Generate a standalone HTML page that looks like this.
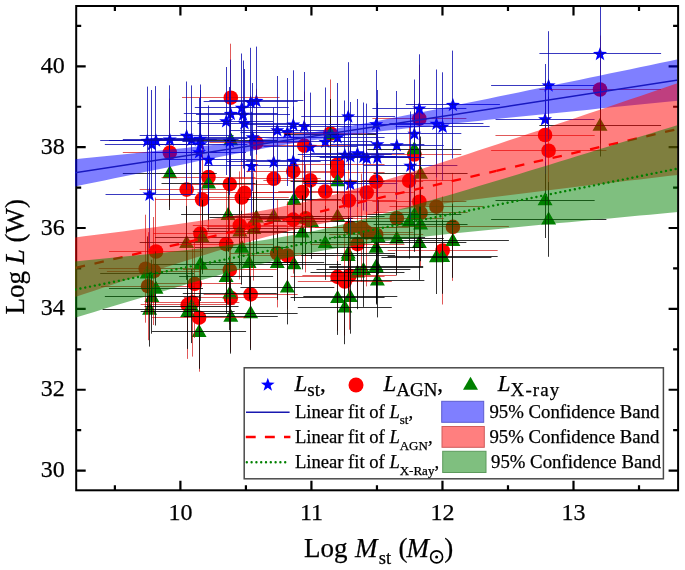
<!DOCTYPE html><html><head><meta charset="utf-8"><style>html,body{margin:0;padding:0;background:#fff;}svg{display:block;will-change:transform;}text{font-family:"Liberation Serif",serif;stroke:#000;stroke-width:0.25px;}</style></head><body>
<svg width="685" height="570" viewBox="0 0 685 570">
<defs><clipPath id="pc"><rect x="76.2" y="6" width="601.9" height="484.3"/></clipPath><clipPath id="pc2"><rect x="75" y="7" width="602.1" height="482.3"/></clipPath></defs>
<g clip-path="url(#pc)">
<g fill="#ff0000"><circle cx="230.8" cy="97.7" r="7.3"/><circle cx="169.8" cy="152.6" r="7.3"/><circle cx="256.4" cy="142.7" r="7.3"/><circle cx="208.53" cy="177" r="7.3"/><circle cx="186.63" cy="189.6" r="7.3"/><circle cx="229.8" cy="184.2" r="7.3"/><circle cx="273.7" cy="178.8" r="7.3"/><circle cx="244.5" cy="192.8" r="7.3"/><circle cx="241.8" cy="197.5" r="7.3"/><circle cx="202.05" cy="199.5" r="7.3"/><circle cx="293.27" cy="171.2" r="7.3"/><circle cx="304.2" cy="145.6" r="7.3"/><circle cx="310.35" cy="180.4" r="7.3"/><circle cx="337.57" cy="164.5" r="7.3"/><circle cx="337.57" cy="172" r="7.3"/><circle cx="376.18" cy="181.6" r="7.3"/><circle cx="419.38" cy="118.7" r="7.3"/><circle cx="414.32" cy="154.5" r="7.3"/><circle cx="409.1" cy="180.8" r="7.3"/><circle cx="325.23" cy="191.5" r="7.3"/><circle cx="302.1" cy="192" r="7.3"/><circle cx="366.7" cy="192.5" r="7.3"/><circle cx="348.9" cy="200.5" r="7.3"/><circle cx="419.38" cy="201.7" r="7.3"/><circle cx="293.27" cy="219.6" r="7.3"/><circle cx="305.7" cy="218.4" r="7.3"/><circle cx="396.8" cy="218.4" r="7.3"/><circle cx="436.43" cy="206.7" r="7.3"/><circle cx="350.3" cy="227.7" r="7.3"/><circle cx="361.8" cy="227.7" r="7.3"/><circle cx="366.7" cy="232.4" r="7.3"/><circle cx="376.18" cy="234.7" r="7.3"/><circle cx="357.47" cy="244.1" r="7.3"/><circle cx="287.37" cy="255.5" r="7.3"/><circle cx="200.38" cy="233.6" r="7.3"/><circle cx="155.97" cy="251.5" r="7.3"/><circle cx="226.13" cy="244.1" r="7.3"/><circle cx="239.8" cy="225.4" r="7.3"/><circle cx="253.8" cy="226.6" r="7.3"/><circle cx="277.27" cy="253.4" r="7.3"/><circle cx="145.7" cy="268.7" r="7.3"/><circle cx="153.9" cy="271" r="7.3"/><circle cx="148" cy="286.2" r="7.3"/><circle cx="194.7" cy="283.9" r="7.3"/><circle cx="187.7" cy="304.9" r="7.3"/><circle cx="192.4" cy="302.6" r="7.3"/><circle cx="199.07" cy="317.7" r="7.3"/><circle cx="229.8" cy="269.9" r="7.3"/><circle cx="230.8" cy="297.9" r="7.3"/><circle cx="250.63" cy="294.4" r="7.3"/><circle cx="337.57" cy="276.9" r="7.3"/><circle cx="344.8" cy="281.5" r="7.3"/><circle cx="349.4" cy="275.7" r="7.3"/><circle cx="420.57" cy="212.8" r="7.3"/><circle cx="452.9" cy="226.9" r="7.3"/><circle cx="442.67" cy="250.5" r="7.3"/><circle cx="545.07" cy="135" r="7.3"/><circle cx="548.6" cy="150.7" r="7.3"/><circle cx="600" cy="89.5" r="7.3"/><circle cx="330.5" cy="133.5" r="7.3"/></g>
<path fill="#008000" d="M169.8,165.21 L177.3,178.2 L162.3,178.2 ZM208.53,175.61 L216.03,188.6 L201.03,188.6 ZM230.8,132.21 L238.3,145.2 L223.3,145.2 ZM330.5,126.21 L338,139.2 L323,139.2 ZM414.32,141.21 L421.82,154.2 L406.82,154.2 ZM337.57,173.21 L345.07,186.2 L330.07,186.2 ZM420.57,165.71 L428.07,178.7 L413.07,178.7 ZM600,117.71 L607.5,130.7 L592.5,130.7 ZM545.07,192.21 L552.57,205.2 L537.57,205.2 ZM548.6,211.61 L556.1,224.6 L541.1,224.6 ZM452.9,233.01 L460.4,246 L445.4,246 ZM442.67,249.01 L450.17,262 L435.17,262 ZM436.43,249.21 L443.93,262.2 L428.93,262.2 ZM228.1,207.11 L235.6,220.1 L220.6,220.1 ZM256.4,209.41 L263.9,222.4 L248.9,222.4 ZM273.7,208.31 L281.2,221.3 L266.2,221.3 ZM239.8,223.41 L247.3,236.4 L232.3,236.4 ZM253.8,221.11 L261.3,234.1 L246.3,234.1 ZM186.63,235.11 L194.13,248.1 L179.13,248.1 ZM202.05,229.31 L209.55,242.3 L194.55,242.3 ZM241.8,239.81 L249.3,252.8 L234.3,252.8 ZM200.38,256.21 L207.88,269.2 L192.88,269.2 ZM249.1,255.01 L256.6,268 L241.6,268 ZM277.27,255.01 L284.77,268 L269.77,268 ZM294,191.91 L301.5,204.9 L286.5,204.9 ZM337.57,208.31 L345.07,221.3 L330.07,221.3 ZM305.7,210.61 L313.2,223.6 L298.2,223.6 ZM311.5,214.11 L319,227.1 L304,227.1 ZM414.32,207.11 L421.82,220.1 L406.82,220.1 ZM302.1,224.61 L309.6,237.6 L294.6,237.6 ZM325.23,235.11 L332.73,248.1 L317.73,248.1 ZM378.1,229.31 L385.6,242.3 L370.6,242.3 ZM376.18,239.81 L383.68,252.8 L368.68,252.8 ZM396.8,230.51 L404.3,243.5 L389.3,243.5 ZM419.38,235.11 L426.88,248.1 L411.88,248.1 ZM348.2,245.61 L355.7,258.6 L340.7,258.6 ZM294,256.21 L301.5,269.2 L286.5,269.2 ZM376.18,258.51 L383.68,271.5 L368.68,271.5 ZM147.2,265.61 L154.7,278.6 L139.7,278.6 ZM155.97,280.71 L163.47,293.7 L148.47,293.7 ZM151.85,288.91 L159.35,301.9 L144.35,301.9 ZM149.55,301.81 L157.05,314.8 L142.05,314.8 ZM191.55,298.31 L199.05,311.3 L184.05,311.3 ZM187.7,304.11 L195.2,317.1 L180.2,317.1 ZM199.07,324.01 L206.57,337 L191.57,337 ZM226.13,269.11 L233.63,282.1 L218.63,282.1 ZM229.8,285.41 L237.3,298.4 L222.3,298.4 ZM230.8,308.81 L238.3,321.8 L223.3,321.8 ZM250.63,305.31 L258.13,318.3 L243.13,318.3 ZM287.37,279.61 L294.87,292.6 L279.87,292.6 ZM337.57,290.11 L345.07,303.1 L330.07,303.1 ZM350.3,288.91 L357.8,301.9 L342.8,301.9 ZM344.8,299.41 L352.3,312.4 L337.3,312.4 ZM348.2,248.01 L355.7,261 L340.7,261 ZM357.47,264.41 L364.97,277.4 L349.97,277.4 ZM363.45,262.11 L370.95,275.1 L355.95,275.1 ZM376.18,259.71 L383.68,272.7 L368.68,272.7 ZM377.37,272.61 L384.87,285.6 L369.87,285.6 ZM409.1,213.81 L416.6,226.8 L401.6,226.8 ZM420.57,216.41 L428.07,229.4 L413.07,229.4 Z"/>
<path fill="#0000ff" d="M147.2,133.8 L148.96,138.77 L154.24,138.91 L150.05,142.13 L151.55,147.19 L147.2,144.2 L142.85,147.19 L144.35,142.13 L140.16,138.91 L145.44,138.77ZM151.85,137.2 L153.61,142.17 L158.89,142.31 L154.7,145.53 L156.2,150.59 L151.85,147.6 L147.5,150.59 L149,145.53 L144.81,142.31 L150.09,142.17ZM155.97,133.3 L157.73,138.27 L163,138.41 L158.82,141.63 L160.32,146.69 L155.97,143.7 L151.62,146.69 L153.11,141.63 L148.93,138.41 L154.2,138.27ZM169.8,132.5 L171.56,137.47 L176.84,137.61 L172.65,140.83 L174.15,145.89 L169.8,142.9 L165.45,145.89 L166.95,140.83 L162.76,137.61 L168.04,137.47ZM186.63,128.7 L188.4,133.67 L193.67,133.81 L189.49,137.03 L190.98,142.09 L186.63,139.1 L182.28,142.09 L183.78,137.03 L179.6,133.81 L184.87,133.67ZM191.55,132.6 L193.31,137.57 L198.59,137.71 L194.4,140.93 L195.9,145.99 L191.55,143 L187.2,145.99 L188.7,140.93 L184.51,137.71 L189.79,137.57ZM200.38,131.7 L202.14,136.67 L207.41,136.81 L203.23,140.03 L204.72,145.09 L200.38,142.1 L196.03,145.09 L197.52,140.03 L193.34,136.81 L198.61,136.67ZM200.38,137.2 L202.14,142.17 L207.41,142.31 L203.23,145.53 L204.72,150.59 L200.38,147.6 L196.03,150.59 L197.52,145.53 L193.34,142.31 L198.61,142.17ZM199.07,145.2 L200.83,150.17 L206.1,150.31 L201.92,153.53 L203.42,158.59 L199.07,155.6 L194.72,158.59 L196.21,153.53 L192.03,150.31 L197.3,150.17ZM208.53,152.7 L210.3,157.67 L215.57,157.81 L211.39,161.03 L212.88,166.09 L208.53,163.1 L204.18,166.09 L205.68,161.03 L201.5,157.81 L206.77,157.67ZM149.55,187.5 L151.31,192.47 L156.59,192.61 L152.4,195.83 L153.9,200.89 L149.55,197.9 L145.2,200.89 L146.7,195.83 L142.51,192.61 L147.79,192.47ZM250.63,95 L252.4,99.97 L257.67,100.11 L253.49,103.33 L254.98,108.39 L250.63,105.4 L246.28,108.39 L247.78,103.33 L243.6,100.11 L248.87,99.97ZM256.4,93.8 L258.16,98.77 L263.44,98.91 L259.25,102.13 L260.75,107.19 L256.4,104.2 L252.05,107.19 L253.55,102.13 L249.36,98.91 L254.64,98.77ZM241.8,100.7 L243.56,105.67 L248.84,105.81 L244.65,109.03 L246.15,114.09 L241.8,111.1 L237.45,114.09 L238.95,109.03 L234.76,105.81 L240.04,105.67ZM243,107.7 L244.76,112.67 L250.04,112.81 L245.85,116.03 L247.35,121.09 L243,118.1 L238.65,121.09 L240.15,116.03 L235.96,112.81 L241.24,112.67ZM244.5,116.2 L246.26,121.17 L251.54,121.31 L247.35,124.53 L248.85,129.59 L244.5,126.6 L240.15,129.59 L241.65,124.53 L237.46,121.31 L242.74,121.17ZM226.13,114.2 L227.9,119.17 L233.17,119.31 L228.99,122.53 L230.48,127.59 L226.13,124.6 L221.78,127.59 L223.28,122.53 L219.1,119.31 L224.37,119.17ZM230.8,106.9 L232.56,111.87 L237.84,112.01 L233.65,115.23 L235.15,120.29 L230.8,117.3 L226.45,120.29 L227.95,115.23 L223.76,112.01 L229.04,111.87ZM229.8,134.2 L231.56,139.17 L236.84,139.31 L232.65,142.53 L234.15,147.59 L229.8,144.6 L225.45,147.59 L226.95,142.53 L222.76,139.31 L228.04,139.17ZM252.6,130.2 L254.36,135.17 L259.64,135.31 L255.45,138.53 L256.95,143.59 L252.6,140.6 L248.25,143.59 L249.75,138.53 L245.56,135.31 L250.84,135.17ZM251.5,159 L253.26,163.97 L258.54,164.11 L254.35,167.33 L255.85,172.39 L251.5,169.4 L247.15,172.39 L248.65,167.33 L244.46,164.11 L249.74,163.97ZM273.7,154.7 L275.46,159.67 L280.74,159.81 L276.55,163.03 L278.05,168.09 L273.7,165.1 L269.35,168.09 L270.85,163.03 L266.66,159.81 L271.94,159.67ZM277.27,123.2 L279.03,128.17 L284.3,128.31 L280.12,131.53 L281.62,136.59 L277.27,133.6 L272.92,136.59 L274.41,131.53 L270.23,128.31 L275.5,128.17ZM287.37,125.2 L289.13,130.17 L294.4,130.31 L290.22,133.53 L291.72,138.59 L287.37,135.6 L283.02,138.59 L284.51,133.53 L280.33,130.31 L285.6,130.17ZM293.27,117.5 L295.04,122.47 L300.31,122.61 L296.13,125.83 L297.62,130.89 L293.27,127.9 L288.93,130.89 L290.42,125.83 L286.24,122.61 L291.51,122.47ZM304.2,119.2 L305.96,124.17 L311.24,124.31 L307.05,127.53 L308.55,132.59 L304.2,129.6 L299.85,132.59 L301.35,127.53 L297.16,124.31 L302.44,124.17ZM310.35,139.8 L312.11,144.77 L317.39,144.91 L313.2,148.13 L314.7,153.19 L310.35,150.2 L306,153.19 L307.5,148.13 L303.31,144.91 L308.59,144.77ZM348.2,109.4 L349.96,114.37 L355.24,114.51 L351.05,117.73 L352.55,122.79 L348.2,119.8 L343.85,122.79 L345.35,117.73 L341.16,114.51 L346.44,114.37ZM376.18,117.2 L377.95,122.17 L383.22,122.31 L379.04,125.53 L380.53,130.59 L376.18,127.6 L371.83,130.59 L373.33,125.53 L369.15,122.31 L374.42,122.17ZM325.23,134.7 L327,139.67 L332.27,139.81 L328.09,143.03 L329.58,148.09 L325.23,145.1 L320.88,148.09 L322.38,143.03 L318.2,139.81 L323.47,139.67ZM337.57,130.2 L339.33,135.17 L344.61,135.31 L340.42,138.53 L341.92,143.59 L337.57,140.6 L333.22,143.59 L334.72,138.53 L330.53,135.31 L335.81,135.17ZM344.8,147.7 L346.56,152.67 L351.84,152.81 L347.65,156.03 L349.15,161.09 L344.8,158.1 L340.45,161.09 L341.95,156.03 L337.76,152.81 L343.04,152.67ZM350.3,149.2 L352.06,154.17 L357.34,154.31 L353.15,157.53 L354.65,162.59 L350.3,159.6 L345.95,162.59 L347.45,157.53 L343.26,154.31 L348.54,154.17ZM366.7,150.8 L368.46,155.77 L373.74,155.91 L369.55,159.13 L371.05,164.19 L366.7,161.2 L362.35,164.19 L363.85,159.13 L359.66,155.91 L364.94,155.77ZM357.47,146.2 L359.23,151.17 L364.5,151.31 L360.32,154.53 L361.82,159.59 L357.47,156.6 L353.12,159.59 L354.61,154.53 L350.43,151.31 L355.7,151.17ZM363.45,149.7 L365.21,154.67 L370.49,154.81 L366.3,158.03 L367.8,163.09 L363.45,160.1 L359.1,163.09 L360.6,158.03 L356.41,154.81 L361.69,154.67ZM377.37,137.2 L379.13,142.17 L384.4,142.31 L380.22,145.53 L381.72,150.59 L377.37,147.6 L373.02,150.59 L374.51,145.53 L370.33,142.31 L375.6,142.17ZM377.37,150.3 L379.13,155.27 L384.4,155.41 L380.22,158.63 L381.72,163.69 L377.37,160.7 L373.02,163.69 L374.51,158.63 L370.33,155.41 L375.6,155.27ZM396.8,138.2 L398.56,143.17 L403.84,143.31 L399.65,146.53 L401.15,151.59 L396.8,148.6 L392.45,151.59 L393.95,146.53 L389.76,143.31 L395.04,143.17ZM414.32,126.7 L416.09,131.67 L421.36,131.81 L417.18,135.03 L418.67,140.09 L414.32,137.1 L409.98,140.09 L411.47,135.03 L407.29,131.81 L412.56,131.67ZM410.4,158.7 L412.16,163.67 L417.44,163.81 L413.25,167.03 L414.75,172.09 L410.4,169.1 L406.05,172.09 L407.55,167.03 L403.36,163.81 L408.64,163.67ZM293.27,153.8 L295.04,158.77 L300.31,158.91 L296.13,162.13 L297.62,167.19 L293.27,164.2 L288.93,167.19 L290.42,162.13 L286.24,158.91 L291.51,158.77ZM350.3,176.9 L352.06,181.87 L357.34,182.01 L353.15,185.23 L354.65,190.29 L350.3,187.3 L345.95,190.29 L347.45,185.23 L343.26,182.01 L348.54,181.87ZM419.38,101.5 L421.14,106.47 L426.41,106.61 L422.23,109.83 L423.72,114.89 L419.38,111.9 L415.03,114.89 L416.52,109.83 L412.34,106.61 L417.61,106.47ZM436.43,116.7 L438.2,121.67 L443.47,121.81 L439.29,125.03 L440.78,130.09 L436.43,127.1 L432.08,130.09 L433.58,125.03 L429.4,121.81 L434.67,121.67ZM442.67,119.5 L444.43,124.47 L449.7,124.61 L445.52,127.83 L447.02,132.89 L442.67,129.9 L438.32,132.89 L439.81,127.83 L435.63,124.61 L440.9,124.47ZM452.9,97.8 L454.66,102.77 L459.94,102.91 L455.75,106.13 L457.25,111.19 L452.9,108.2 L448.55,111.19 L450.05,106.13 L445.86,102.91 L451.14,102.77ZM548.6,78.4 L550.36,83.37 L555.64,83.51 L551.45,86.73 L552.95,91.79 L548.6,88.8 L544.25,91.79 L545.75,86.73 L541.56,83.51 L546.84,83.37ZM545.07,112.2 L546.83,117.17 L552.1,117.31 L547.92,120.53 L549.42,125.59 L545.07,122.6 L540.72,125.59 L542.21,120.53 L538.03,117.31 L543.3,117.17ZM600,46.9 L601.76,51.87 L607.04,52.01 L602.85,55.23 L604.35,60.29 L600,57.3 L595.65,60.29 L597.15,55.23 L592.96,52.01 L598.24,51.87Z"/>
<path d="M182,97.5H279.6M230.5,43.7V151.7M122.8,152.5H216.8M169.5,98.6V206.6M209.4,142.5H303.4M256.5,88.7V196.7M161.53,177.5H255.53M208.5,123V231M139.63,189.5H233.63M186.5,135.6V243.6M182.8,184.5H276.8M229.5,130.2V238.2M226.7,178.5H320.7M273.5,124.8V232.8M197.5,192.5H291.5M244.5,138.8V246.8M194.8,197.5H288.8M241.5,143.5V251.5M155.05,199.5H249.05M202.5,145.5V253.5M246.27,171.5H340.27M293.5,117.2V225.2M257.2,145.5H351.2M304.5,91.6V199.6M263.35,180.5H357.35M310.5,126.4V234.4M290.57,164.5H384.57M337.5,110.5V218.5M290.57,172.5H384.57M337.5,118V226M329.18,181.5H423.18M376.5,127.6V235.6M372.38,118.5H466.38M419.5,64.7V172.7M367.32,154.5H461.32M414.5,100.5V208.5M362.1,180.5H456.1M409.5,126.8V234.8M278.23,191.5H372.23M325.5,137.5V245.5M255.1,192.5H349.1M302.5,138V246M319.7,192.5H413.7M366.5,138.5V246.5M301.9,200.5H395.9M348.5,146.5V254.5M372.38,201.5H466.38M419.5,147.7V255.7M246.27,219.5H340.27M293.5,165.6V273.6M258.7,218.5H352.7M305.5,164.4V272.4M349.8,218.5H443.8M396.5,164.4V272.4M389.43,206.5H483.43M436.5,152.7V260.7M303.3,227.5H397.3M350.5,173.7V281.7M314.8,227.5H408.8M361.5,173.7V281.7M319.7,232.5H413.7M366.5,178.4V286.4M329.18,234.5H423.18M376.5,180.7V288.7M310.47,244.5H404.47M357.5,190.1V298.1M240.37,255.5H334.37M287.5,201.5V309.5M153.38,233.5H247.38M200.5,179.6V287.6M108.97,251.5H202.97M155.5,197.5V305.5M179.13,244.5H273.13M226.5,190.1V298.1M192.8,225.5H286.8M239.5,171.4V279.4M206.8,226.5H300.8M253.5,172.6V280.6M230.27,253.5H324.27M277.5,199.4V307.4M98.7,268.5H192.7M145.5,214.7V322.7M106.9,271.5H200.9M153.5,217V325M101,286.5H195M148.5,232.2V340.2M147.7,283.5H241.7M194.5,229.9V337.9M140.7,304.5H234.7M187.5,250.9V358.9M145.4,302.5H239.4M192.5,248.6V356.6M152.07,317.5H246.07M199.5,263.7V371.7M182.8,269.5H276.8M229.5,215.9V323.9M183.8,297.5H277.8M230.5,243.9V351.9M203.63,294.5H297.63M250.5,240.4V348.4M290.57,276.5H384.57M337.5,222.9V330.9M297.8,281.5H391.8M344.5,227.5V335.5M302.4,275.5H396.4M349.5,221.7V329.7M373.57,212.5H467.57M420.5,158.8V266.8M396.9,226.5H508.9M452.5,172.9V280.9M387.67,250.5H497.67M442.5,196.5V304.5M495.47,135.5H594.67M545.5,81V189M491.1,150.5H606.4M548.5,96.7V204.7M539.4,89.5H661.1M600.5,35.5V143.5M283.5,133.5H377.5M330.5,79.5V187.5" stroke="#d00000" stroke-width="1" stroke-opacity="0.65" fill="none"/>
<path d="M122.8,173.5H216.8M169.5,136V210M161.53,183.5H255.53M208.5,146.4V220.4M183.8,140.5H277.8M230.5,103V177M284.5,134.5H376.5M330.5,99V169M367.32,149.5H461.32M414.5,112V186M290.57,181.5H384.57M337.5,144V218M373.57,173.5H467.57M420.5,136.5V210.5M539.4,125.5H661.1M600.5,94.5V156.5M495.47,200.5H594.67M545.5,162V238M491.1,219.5H606.4M548.5,182V256.8M396.9,240.5H508.9M452.5,203.8V277.8M387.67,256.5H497.67M442.5,219.8V293.8M381.43,257.5H491.43M436.5,220V294M181.1,214.5H275.1M228.5,177.9V251.9M209.4,217.5H303.4M256.5,180.2V254.2M226.7,216.5H320.7M273.5,179.1V253.1M192.8,231.5H286.8M239.5,194.2V268.2M206.8,228.5H300.8M253.5,191.9V265.9M139.63,242.5H233.63M186.5,205.9V279.9M155.05,237.5H249.05M202.5,200.1V274.1M194.8,247.5H288.8M241.5,210.6V284.6M153.38,264.5H247.38M200.5,227V301M202.1,262.5H296.1M249.5,225.8V299.8M230.27,262.5H324.27M277.5,225.8V299.8M247,199.5H341M294.5,162.7V236.7M290.57,216.5H384.57M337.5,179.1V253.1M258.7,218.5H352.7M305.5,181.4V255.4M264.5,221.5H358.5M311.5,184.9V258.9M367.32,214.5H461.32M414.5,177.9V251.9M255.1,232.5H349.1M302.5,195.4V269.4M278.23,242.5H372.23M325.5,205.9V279.9M331.1,237.5H425.1M378.5,200.1V274.1M329.18,247.5H423.18M376.5,210.6V284.6M349.8,238.5H443.8M396.5,201.3V275.3M372.38,242.5H466.38M419.5,205.9V279.9M301.2,253.5H395.2M348.5,216.4V290.4M247,264.5H341M294.5,227V301M329.18,266.5H423.18M376.5,229.3V303.3M100.2,273.5H194.2M147.5,236.4V310.4M108.97,288.5H202.97M155.5,251.5V325.5M104.85,296.5H198.85M151.5,259.7V333.7M102.55,309.5H196.55M149.5,272.6V346.6M144.55,306.5H238.55M191.5,269.1V343.1M140.7,311.5H234.7M187.5,274.9V348.9M152.07,331.5H246.07M199.5,294.8V368.8M179.13,276.5H273.13M226.5,239.9V313.9M182.8,293.5H276.8M229.5,256.2V330.2M183.8,316.5H277.8M230.5,279.6V353.6M203.63,313.5H297.63M250.5,276.1V350.1M240.37,287.5H334.37M287.5,250.4V324.4M290.57,297.5H384.57M337.5,260.9V334.9M303.3,296.5H397.3M350.5,259.7V333.7M297.8,307.5H391.8M344.5,270.2V344.2M301.2,255.5H395.2M348.5,218.8V292.8M310.47,272.5H404.47M357.5,235.2V309.2M316.45,269.5H410.45M363.5,232.9V306.9M329.18,267.5H423.18M376.5,230.5V304.5M330.37,280.5H424.37M377.5,243.4V317.4M362.1,221.5H456.1M409.5,184.6V258.6M373.57,224.5H467.57M420.5,187.2V261.2" stroke="#000000" stroke-width="1" stroke-opacity="0.8" fill="none"/>
<path d="M100.2,140.5H194.2M147.5,86.6V194.6M104.85,144.5H198.85M151.5,90V198M108.97,140.5H202.97M155.5,86.1V194.1M122.8,139.5H216.8M169.5,85.3V193.3M139.63,135.5H233.63M186.5,81.5V189.5M144.55,139.5H238.55M191.5,85.4V193.4M153.38,138.5H247.38M200.5,84.5V192.5M153.38,144.5H247.38M200.5,90V198M152.07,152.5H246.07M199.5,98V206M161.53,159.5H255.53M208.5,105.5V213.5M105.55,194.5H195.55M149.5,140.3V248.3M203.63,101.5H297.63M250.5,47.8V155.8M209.4,100.5H303.4M256.5,46.6V154.6M194.8,107.5H288.8M241.5,53.5V161.5M196,114.5H290M243.5,60.5V168.5M197.5,123.5H291.5M244.5,69V177M179.13,121.5H273.13M226.5,67V175M183.8,113.5H277.8M230.5,59.7V167.7M182.8,141.5H276.8M229.5,87V195M205.6,137.5H299.6M252.5,83V191M204.5,165.5H298.5M251.5,111.8V219.8M226.7,161.5H320.7M273.5,107.5V215.5M230.27,130.5H324.27M277.5,76V184M240.37,132.5H334.37M287.5,78V186M246.27,124.5H340.27M293.5,70.3V178.3M257.2,126.5H351.2M304.5,72V180M263.35,146.5H357.35M310.5,92.6V200.6M301.2,116.5H395.2M348.5,62.2V170.2M329.18,124.5H423.18M376.5,70V178M278.23,141.5H372.23M325.5,87.5V195.5M290.57,137.5H384.57M337.5,83V191M297.8,154.5H391.8M344.5,100.5V208.5M303.3,156.5H397.3M350.5,102V210M319.7,157.5H413.7M366.5,103.6V211.6M310.47,153.5H404.47M357.5,99V207M316.45,156.5H410.45M363.5,102.5V210.5M330.37,144.5H424.37M377.5,90V198M330.37,157.5H424.37M377.5,103.1V211.1M349.8,145.5H443.8M396.5,91V199M367.32,133.5H461.32M414.5,79.5V187.5M363.4,165.5H457.4M410.5,111.5V219.5M246.27,160.5H340.27M293.5,106.6V214.6M303.3,183.5H397.3M350.5,129.7V237.7M372.38,108.5H466.38M419.5,54.3V162.3M389.43,123.5H483.43M436.5,69.5V177.5M395.67,126.5H489.67M442.5,72.3V180.3M405.9,104.5H499.9M452.5,50.6V158.6M491.1,85.5H594.1M548.5,31.2V139.2M495.57,119.5H594.57M545.5,64V174M539.4,53.5H661.1M600.5,-0.3V107.7" stroke="#0808b0" stroke-width="1" stroke-opacity="0.8" fill="none"/>
</g>
<rect x="76.2" y="6" width="601.9" height="484.3" fill="none" stroke="#000" stroke-width="2"/>
<path d="M76.2,470.6h9.5M678.1,470.6h-9.5M76.2,430.17h5M678.1,430.17h-5M76.2,389.74h9.5M678.1,389.74h-9.5M76.2,349.31h5M678.1,349.31h-5M76.2,308.88h9.5M678.1,308.88h-9.5M76.2,268.45h5M678.1,268.45h-5M76.2,228.02h9.5M678.1,228.02h-9.5M76.2,187.59h5M678.1,187.59h-5M76.2,147.16h9.5M678.1,147.16h-9.5M76.2,106.73h5M678.1,106.73h-5M76.2,66.3h9.5M678.1,66.3h-9.5M76.2,25.87h5M678.1,25.87h-5M114.88,490.3v-5M114.88,6v5M180.4,490.3v-9.5M180.4,6v9.5M245.92,490.3v-5M245.92,6v5M311.43,490.3v-9.5M311.43,6v9.5M376.95,490.3v-5M376.95,6v5M442.47,490.3v-9.5M442.47,6v9.5M507.98,490.3v-5M507.98,6v5M573.5,490.3v-9.5M573.5,6v9.5M639.02,490.3v-5M639.02,6v5" stroke="#000" stroke-width="2.2" fill="none"/>
<g clip-path="url(#pc2)">
<path d="M74,159.31 L84.1,158.29 L94.2,157.26 L104.31,156.24 L114.41,155.21 L124.51,154.18 L134.61,153.15 L144.71,152.11 L154.81,151.07 L164.92,150.02 L175.02,148.96 L185.12,147.9 L195.22,146.83 L205.32,145.74 L215.42,144.65 L225.53,143.53 L235.63,142.39 L245.73,141.23 L255.83,140.04 L265.93,138.8 L276.03,137.52 L286.13,136.18 L296.24,134.77 L306.34,133.29 L316.44,131.73 L326.54,130.1 L336.64,128.38 L346.75,126.61 L356.85,124.77 L366.95,122.89 L377.05,120.97 L387.15,119.02 L397.25,117.04 L407.35,115.05 L417.46,113.03 L427.56,111.01 L437.66,108.97 L447.76,106.92 L457.86,104.87 L467.97,102.8 L478.07,100.74 L488.17,98.67 L498.27,96.59 L508.37,94.51 L518.47,92.43 L528.58,90.34 L538.68,88.25 L548.78,86.16 L558.88,84.07 L568.98,81.98 L579.08,79.88 L589.19,77.79 L599.29,75.69 L609.39,73.59 L619.49,71.49 L629.59,69.39 L639.69,67.29 L649.8,65.19 L659.9,63.09 L670,60.98 L680.1,58.88 L680.1,100.56 L670,101.56 L659.9,102.57 L649.8,103.58 L639.69,104.58 L629.59,105.59 L619.49,106.6 L609.39,107.61 L599.29,108.62 L589.19,109.63 L579.08,110.65 L568.98,111.66 L558.88,112.68 L548.78,113.69 L538.68,114.71 L528.58,115.74 L518.47,116.76 L508.37,117.79 L498.27,118.82 L488.17,119.85 L478.07,120.89 L467.97,121.93 L457.86,122.98 L447.76,124.03 L437.66,125.09 L427.56,126.16 L417.46,127.25 L407.35,128.34 L397.25,129.46 L387.15,130.59 L377.05,131.75 L366.95,132.94 L356.85,134.16 L346.75,135.44 L336.64,136.77 L326.54,138.17 L316.44,139.64 L306.34,141.19 L296.24,142.82 L286.13,144.52 L276.03,146.29 L265.93,148.12 L255.83,149.99 L245.73,151.91 L235.63,153.85 L225.53,155.83 L215.42,157.82 L205.32,159.83 L195.22,161.86 L185.12,163.89 L175.02,165.94 L164.92,167.99 L154.81,170.05 L144.71,172.12 L134.61,174.19 L124.51,176.27 L114.41,178.35 L104.31,180.43 L94.2,182.51 L84.1,184.6 L74,186.69Z" fill="#0000ff" fill-opacity="0.5"/>
<path d="M74,173 L678.1,80.03" stroke="#1818c0" stroke-width="1.5" fill="none"/>
<path d="M74,237.5 L84.1,236.25 L94.2,235 L104.31,233.74 L114.41,232.46 L124.51,231.17 L134.61,229.86 L144.71,228.54 L154.81,227.2 L164.92,225.83 L175.02,224.44 L185.12,223.02 L195.22,221.56 L205.32,220.07 L215.42,218.53 L225.53,216.94 L235.63,215.29 L245.73,213.57 L255.83,211.78 L265.93,209.9 L276.03,207.93 L286.13,205.86 L296.24,203.68 L306.34,201.39 L316.44,198.99 L326.54,196.49 L336.64,193.88 L346.75,191.17 L356.85,188.37 L366.95,185.5 L377.05,182.55 L387.15,179.53 L397.25,176.47 L407.35,173.35 L417.46,170.19 L427.56,167 L437.66,163.77 L447.76,160.52 L457.86,157.24 L467.97,153.94 L478.07,150.62 L488.17,147.29 L498.27,143.94 L508.37,140.58 L518.47,137.2 L528.58,133.82 L538.68,130.43 L548.78,127.03 L558.88,123.62 L568.98,120.2 L579.08,116.78 L589.19,113.35 L599.29,109.92 L609.39,106.49 L619.49,103.05 L629.59,99.6 L639.69,96.15 L649.8,92.7 L659.9,89.25 L670,85.79 L680.1,82.33 L680.1,174.67 L670,175.84 L659.9,177.02 L649.8,178.19 L639.69,179.38 L629.59,180.56 L619.49,181.75 L609.39,182.94 L599.29,184.14 L589.19,185.34 L579.08,186.54 L568.98,187.76 L558.88,188.97 L548.78,190.2 L538.68,191.43 L528.58,192.67 L518.47,193.92 L508.37,195.18 L498.27,196.45 L488.17,197.73 L478.07,199.03 L467.97,200.34 L457.86,201.68 L447.76,203.03 L437.66,204.41 L427.56,205.82 L417.46,207.25 L407.35,208.73 L397.25,210.25 L387.15,211.81 L377.05,213.43 L366.95,215.12 L356.85,216.87 L346.75,218.71 L336.64,220.63 L326.54,222.66 L316.44,224.78 L306.34,227.02 L296.24,229.36 L286.13,231.82 L276.03,234.38 L265.93,237.04 L255.83,239.79 L245.73,242.63 L235.63,245.55 L225.53,248.53 L215.42,251.57 L205.32,254.66 L195.22,257.8 L185.12,260.98 L175.02,264.19 L164.92,267.43 L154.81,270.7 L144.71,273.99 L134.61,277.3 L124.51,280.62 L114.41,283.97 L104.31,287.32 L94.2,290.69 L84.1,294.07 L74,297.46Z" fill="#ff0000" fill-opacity="0.5"/>
<path d="M74,268.26 L496.3,170.88" stroke="#ff0000" stroke-width="2.3" stroke-dasharray="9.54,9.75" stroke-dashoffset="-1.74" fill="none"/>
<path d="M496.3,170.88 L678.1,128.96" stroke="#ff0000" stroke-width="2.3" stroke-dasharray="9.54,9.7" fill="none"/>
<path d="M74,261.54 L84.1,260.57 L94.2,259.59 L104.31,258.6 L114.41,257.61 L124.51,256.6 L134.61,255.58 L144.71,254.54 L154.81,253.5 L164.92,252.43 L175.02,251.34 L185.12,250.22 L195.22,249.08 L205.32,247.9 L215.42,246.69 L225.53,245.42 L235.63,244.11 L245.73,242.72 L255.83,241.27 L265.93,239.72 L276.03,238.09 L286.13,236.34 L296.24,234.48 L306.34,232.5 L316.44,230.39 L326.54,228.17 L336.64,225.83 L346.75,223.39 L356.85,220.85 L366.95,218.23 L377.05,215.54 L387.15,212.79 L397.25,209.98 L407.35,207.13 L417.46,204.24 L427.56,201.32 L437.66,198.37 L447.76,195.4 L457.86,192.4 L467.97,189.39 L478.07,186.37 L488.17,183.33 L498.27,180.27 L508.37,177.21 L518.47,174.14 L528.58,171.06 L538.68,167.97 L548.78,164.88 L558.88,161.78 L568.98,158.68 L579.08,155.57 L589.19,152.46 L599.29,149.34 L609.39,146.22 L619.49,143.1 L629.59,139.97 L639.69,136.84 L649.8,133.71 L659.9,130.58 L670,127.44 L680.1,124.3 L680.1,211.91 L670,212.83 L659.9,213.75 L649.8,214.67 L639.69,215.6 L629.59,216.53 L619.49,217.46 L609.39,218.39 L599.29,219.33 L589.19,220.27 L579.08,221.21 L568.98,222.16 L558.88,223.11 L548.78,224.07 L538.68,225.04 L528.58,226.01 L518.47,226.98 L508.37,227.97 L498.27,228.96 L488.17,229.97 L478.07,230.98 L467.97,232.01 L457.86,233.06 L447.76,234.12 L437.66,235.21 L427.56,236.31 L417.46,237.45 L407.35,238.62 L397.25,239.82 L387.15,241.07 L377.05,242.38 L366.95,243.74 L356.85,245.18 L346.75,246.7 L336.64,248.32 L326.54,250.03 L316.44,251.87 L306.34,253.82 L296.24,255.89 L286.13,258.09 L276.03,260.4 L265.93,262.82 L255.83,265.33 L245.73,267.93 L235.63,270.61 L225.53,273.35 L215.42,276.14 L205.32,278.98 L195.22,281.86 L185.12,284.77 L175.02,287.72 L164.92,290.68 L154.81,293.67 L144.71,296.68 L134.61,299.7 L124.51,302.74 L114.41,305.79 L104.31,308.85 L94.2,311.92 L84.1,315 L74,318.08Z" fill="#008000" fill-opacity="0.5"/>
<path d="M74,289.81 L678.1,168.51" stroke="#008000" stroke-width="2.4" stroke-linecap="round" stroke-dasharray="0.01,4.886" stroke-dashoffset="3.264" fill="none"/>
</g>
<text x="64.8" y="477.2" font-size="24" text-anchor="end">30</text>
<text x="64.8" y="396.34" font-size="24" text-anchor="end">32</text>
<text x="64.8" y="315.48" font-size="24" text-anchor="end">34</text>
<text x="64.8" y="234.62" font-size="24" text-anchor="end">36</text>
<text x="64.8" y="153.76" font-size="24" text-anchor="end">38</text>
<text x="64.8" y="72.9" font-size="24" text-anchor="end">40</text>
<text x="180.4" y="519.5" font-size="24" text-anchor="middle">10</text>
<text x="311.43" y="519.5" font-size="24" text-anchor="middle">11</text>
<text x="442.47" y="519.5" font-size="24" text-anchor="middle">12</text>
<text x="573.5" y="519.5" font-size="24" text-anchor="middle">13</text>
<text x="304.1" y="556.8" font-size="27">Log</text>
<text x="355.1" y="556.8" font-size="27" font-style="italic">M</text>
<text x="378.8" y="564.3" font-size="18.5">st</text>
<text x="398.4" y="556.8" font-size="27">(</text>
<text x="406.4" y="556.8" font-size="27" font-style="italic">M</text>
<circle cx="436.6" cy="556.9" r="6" fill="none" stroke="#000" stroke-width="1.6"/><circle cx="436.6" cy="556.9" r="1.5" fill="#000"/>
<text x="444.2" y="556.8" font-size="27">)</text>
<text transform="translate(24.2,314.6) rotate(-90)" font-size="27">Log <tspan font-style="italic">L</tspan> (W)</text>
<rect x="244.2" y="367.8" width="419.2" height="111" fill="#fff" stroke="#4a4a4a" stroke-width="1.5"/>
<path fill="#0000ff" d="M267.8,377.7 L269.5,382.55 L274.65,382.68 L270.56,385.8 L272.03,390.72 L267.8,387.8 L263.57,390.72 L265.04,385.8 L260.95,382.68 L266.1,382.55Z"/>
<circle cx="356" cy="385" r="7.5" fill="#ff0000"/>
<path fill="#008000" d="M470.5,376.71 L478,389.7 L463,389.7 Z"/>
<text x="294.5" y="391" font-size="23"><tspan font-style="italic">L</tspan><tspan font-size="19" dy="5">st</tspan><tspan dy="-5">,</tspan></text>
<text x="383.4" y="391" font-size="23"><tspan font-style="italic">L</tspan><tspan font-size="19" dy="5">AGN</tspan><tspan dy="-5">,</tspan></text>
<text x="497.8" y="391" font-size="23"><tspan font-style="italic">L</tspan><tspan font-size="19" dy="5" letter-spacing="1.1">X-ray</tspan></text>
<path d="M246,412.2H289.6" stroke="#1818b0" stroke-width="1.6"/>
<path d="M245.8,437H290.4" stroke="#ff0000" stroke-width="2.4" stroke-dasharray="9.9,9.2"/>
<path d="M246.8,462.2H286" stroke="#008000" stroke-width="2.4" stroke-linecap="round" stroke-dasharray="0.01,4.79"/>
<text x="294.9" y="417.8" font-size="18.6">Linear fit of <tspan font-style="italic">L</tspan><tspan font-size="13" dy="6.6">st</tspan><tspan dy="-6.6">,</tspan></text>
<text x="294.9" y="443.0" font-size="18.6">Linear fit of <tspan font-style="italic">L</tspan><tspan font-size="13" dy="6.6">AGN</tspan><tspan dy="-6.6">,</tspan></text>
<text x="294.9" y="468.2" font-size="18.6">Linear fit of <tspan font-style="italic">L</tspan><tspan font-size="13" dy="6.6">X-Ray</tspan><tspan dy="-6.6">,</tspan></text>
<rect x="441.7" y="401.3" width="42" height="21" fill="#7f7fff" stroke="#5c5cd0" stroke-width="1"/>
<text x="489.4" y="417.8" font-size="18.8">95% Confidence Band</text>
<rect x="442" y="426.5" width="42.3" height="20.8" fill="#ff7f7f" stroke="#d05c5c" stroke-width="1"/>
<text x="489.4" y="443.0" font-size="18.8">95% Confidence Band</text>
<rect x="442.7" y="451.3" width="43.3" height="21.2" fill="#7fbf7f" stroke="#5c9a5c" stroke-width="1"/>
<text x="491" y="468.2" font-size="18.8">95% Confidence Band</text>
</svg></body></html>
